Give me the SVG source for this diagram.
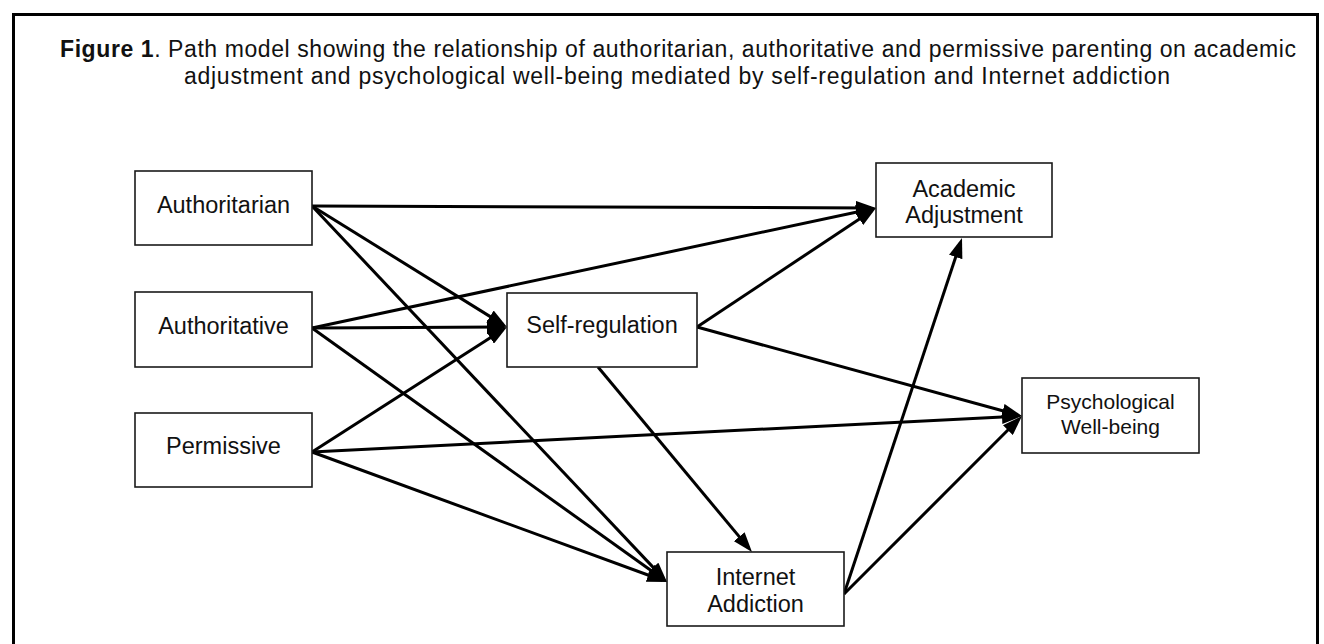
<svg xmlns="http://www.w3.org/2000/svg" width="1324" height="644" viewBox="0 0 1324 644">
  <style>
    .box { fill: #ffffff; stroke: #1a1a1a; stroke-width: 1.6; }
    .lbl { font-family: "Liberation Sans", Arial, sans-serif; font-size: 23.5px; fill: #111111; text-anchor: middle; }
    .lbl-sm { font-family: "Liberation Sans", Arial, sans-serif; font-size: 21px; fill: #111111; text-anchor: middle; }
    .title { font-family: "Liberation Sans", Arial, sans-serif; font-size: 23px; fill: #111111; text-anchor: middle; }
    .edge { stroke: #000000; stroke-width: 3; fill: none; marker-end: url(#arrow); }
  </style>
  <defs>
    <marker id="arrow" markerUnits="userSpaceOnUse" viewBox="0 0 20 14" markerWidth="20" markerHeight="14" refX="15" refY="7" orient="auto">
      <path d="M0,0 L20,7 L0,14 z" fill="#000000"/>
    </marker>
  </defs>
  <rect x="0" y="0" width="1324" height="644" fill="#ffffff"/>
  <rect x="13.5" y="14.5" width="1304" height="700" fill="none" stroke="#000000" stroke-width="3"/>

  <g id="title">
    <text class="title" x="678" y="57" textLength="1236"><tspan font-weight="bold">Figure 1</tspan>. Path model showing the relationship of authoritarian, authoritative and permissive parenting on academic</text>
    <text class="title" x="677" y="84" textLength="986">adjustment and psychological well-being mediated by self-regulation and Internet addiction</text>
  </g>

  <g id="connectors">
    <line class="edge" x1="312" y1="206" x2="871" y2="208"/>
    <line class="edge" x1="312" y1="206" x2="502.75" y2="324.36"/>
    <line class="edge" x1="312" y1="206" x2="663.57" y2="578.36"/>
    <line class="edge" x1="312" y1="328" x2="871.11" y2="209.04"/>
    <line class="edge" x1="312" y1="328" x2="502" y2="327.03"/>
    <line class="edge" x1="312" y1="328" x2="662.93" y2="579.09"/>
    <line class="edge" x1="312" y1="452" x2="502.79" y2="329.70"/>
    <line class="edge" x1="312" y1="452" x2="1017.01" y2="416.25"/>
    <line class="edge" x1="312" y1="452" x2="662.31" y2="580.28"/>
    <line class="edge" x1="697" y1="327" x2="871.84" y2="210.77"/>
    <line class="edge" x1="697" y1="327" x2="1017.18" y2="414.68"/>
    <line class="edge" x1="598" y1="367" x2="748.8" y2="548.16"/>
    <line class="edge" x1="844" y1="594" x2="960.43" y2="242.75"/>
    <line class="edge" x1="844" y1="594" x2="1018.46" y2="419.54"/>
  </g>

  <g id="authoritarian">
    <rect class="box" x="135" y="171" width="177" height="74"/>
    <text class="lbl" x="223.5" y="213">Authoritarian</text>
  </g>
  <g id="authoritative">
    <rect class="box" x="135" y="292" width="177" height="75"/>
    <text class="lbl" x="223.5" y="334">Authoritative</text>
  </g>
  <g id="permissive">
    <rect class="box" x="135" y="413" width="177" height="74"/>
    <text class="lbl" x="223.5" y="454">Permissive</text>
  </g>
  <g id="self-regulation">
    <rect class="box" x="507" y="293" width="190" height="74"/>
    <text class="lbl" x="602" y="333">Self-regulation</text>
  </g>
  <g id="academic-adjustment">
    <rect class="box" x="876" y="163" width="176" height="74"/>
    <text class="lbl" x="964" y="197">Academic</text>
    <text class="lbl" x="964" y="223">Adjustment</text>
  </g>
  <g id="psychological-well-being">
    <rect class="box" x="1022" y="378" width="177" height="75"/>
    <text class="lbl-sm" x="1110.5" y="409">Psychological</text>
    <text class="lbl-sm" x="1110.5" y="434">Well-being</text>
  </g>
  <g id="internet-addiction">
    <rect class="box" x="667" y="552" width="177" height="74"/>
    <text class="lbl" x="755.5" y="585">Internet</text>
    <text class="lbl" x="755.5" y="612">Addiction</text>
  </g>
</svg>
